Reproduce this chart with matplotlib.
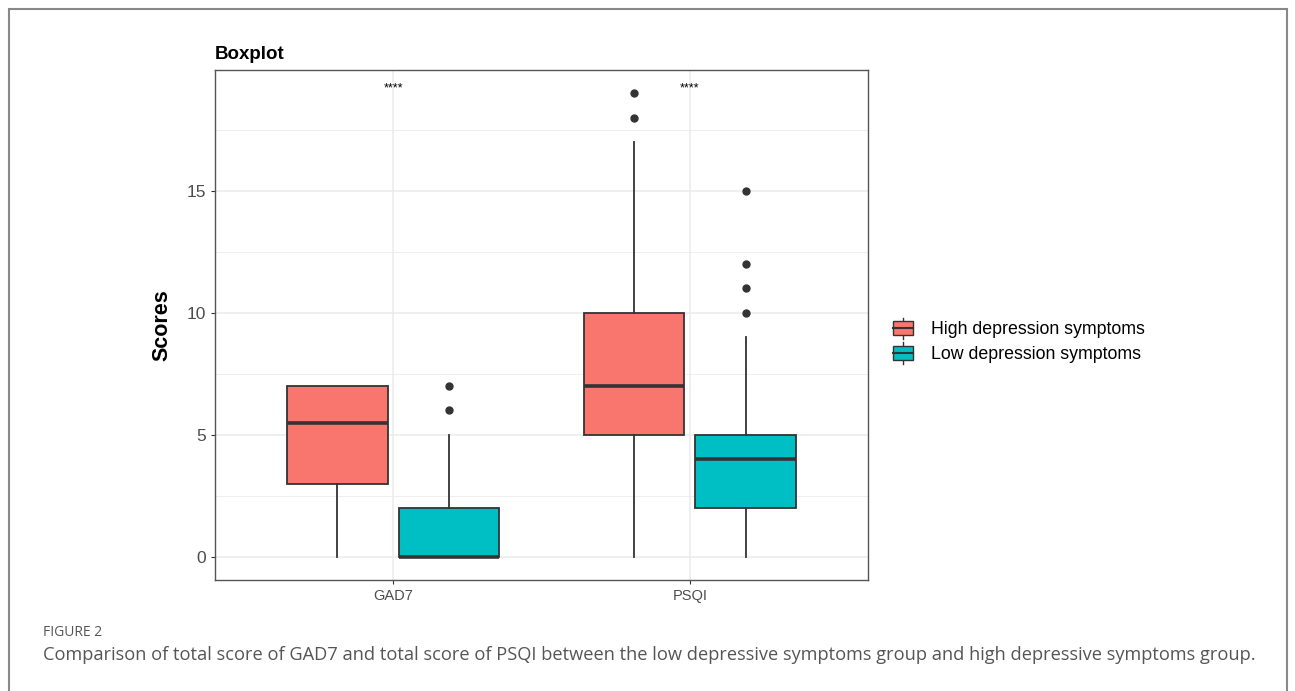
import matplotlib.pyplot as plt
from matplotlib.patches import Rectangle
from matplotlib.lines import Line2D
from matplotlib.legend_handler import HandlerBase

plt.rcParams['font.family'] = ['Liberation Sans', 'DejaVu Sans']

# --- 資料 ---
categories = ["GAD7", "PSQI"]
groups = ["High depression symptoms", "Low depression symptoms"]
colors = ["#F8766D", "#00BFC4"]

# 每組: [whislo, q1, med, q3, whishi]
high_stats = [[0, 3, 5.5, 7, 7], [0, 5, 7, 10, 17]]
low_stats = [[0, 0, 0, 2, 5], [0, 2, 4, 5, 9]]
high_fliers = [[], [18, 19]]
low_fliers = [[6, 7], [10, 11, 12, 15]]
signif = ["****", "****"]
signif_y = 19.2

edge = "#333333"


class BoxKeyHandler(HandlerBase):
    # 圖例中的小盒子 (像 ggplot 的 boxplot key)
    def create_artists(self, legend, orig_handle, xdescent, ydescent,
                       width, height, fontsize, trans):
        fc = orig_handle.get_facecolor()
        cx = width / 2 - xdescent
        bw = width * 0.85
        bh = height * 0.95
        y0 = -ydescent + (height - bh) / 2
        vline = Line2D([cx, cx], [-ydescent - 2.5, -ydescent + height + 2.5],
                       color=edge, lw=1, transform=trans)
        rect = Rectangle((cx - bw / 2, y0), bw, bh, facecolor=fc,
                         edgecolor=edge, lw=1, transform=trans)
        mid = Line2D([cx - bw / 2, cx + bw / 2], [y0 + bh / 2, y0 + bh / 2],
                     color=edge, lw=1.5, transform=trans)
        return [vline, rect, mid]


fig = plt.figure(figsize=(12.95, 6.91), dpi=100)
ax = fig.add_axes([0.166, 0.1606, 0.5043, 0.7381])

offset = 0.1875
width = 0.3375
for g, (stats, fliers, col, sgn) in enumerate(
        [(high_stats, high_fliers, colors[0], -1),
         (low_stats, low_fliers, colors[1], 1)]):
    bxp_stats = []
    for s, f in zip(stats, fliers):
        bxp_stats.append(dict(whislo=s[0], q1=s[1], med=s[2], q3=s[3],
                              whishi=s[4], fliers=f))
    pos = [i + 1 + sgn * offset for i in range(len(categories))]
    ax.bxp(bxp_stats, positions=pos, widths=width, patch_artist=True,
           showcaps=False,
           boxprops=dict(facecolor=col, edgecolor=edge, lw=1.3),
           medianprops=dict(color=edge, lw=2.6),
           whiskerprops=dict(color=edge, lw=1.3),
           flierprops=dict(marker="o", markerfacecolor=edge,
                           markeredgecolor=edge, markersize=5),
           zorder=3)

for i, s in enumerate(signif):
    ax.text(i + 1, signif_y, s, ha="center", va="center", fontsize=9,
            color="black", zorder=4)

ax.set_xlim(0.4, 2.6)
ax.set_ylim(-0.95, 19.95)
ax.set_xticks([1, 2])
ax.set_xticklabels(categories, fontsize=10.5, color="#4d4d4d")
ax.set_yticks([0, 5, 10, 15])
ax.set_yticks([2.5, 7.5, 12.5, 17.5], minor=True)
ax.tick_params(axis="y", labelsize=12.5, labelcolor="#4d4d4d", color="#333333",
               length=3)
ax.tick_params(axis="x", color="#333333", length=3)
ax.tick_params(which="minor", length=0)
ax.grid(True, which="major", color="#ebebeb", lw=1.1, zorder=0)
ax.grid(True, which="minor", axis="y", color="#ebebeb", lw=0.6, zorder=0)
ax.set_axisbelow(True)
for sp in ax.spines.values():
    sp.set_color("#555555")
    sp.set_linewidth(1.0)

ax.set_ylabel("Scores", fontsize=15.5, fontweight="bold", labelpad=10)
ax.set_title("Boxplot", loc="left", fontsize=13.5, fontweight="bold", pad=8)

handles = [Rectangle((0, 0), 1, 1, facecolor=c) for c in colors]
fig.legend(handles, groups, loc="center left", bbox_to_anchor=(0.676, 0.505),
           frameon=False, fontsize=12.8, handler_map={Rectangle: BoxKeyHandler()},
           handlelength=1.3, handleheight=0.9, handletextpad=0.9,
           labelspacing=0.4)

# 外框與圖說
fig.patches.append(Rectangle((9 / 1295, -0.05), 1278 / 1295, 1.05 - 9 / 691,
                             transform=fig.transFigure, fill=False,
                             edgecolor="#888888", lw=1.5))
fig.text(43 / 1295, 1 - 633 / 691, "FIGURE 2", fontsize=10, color="#555555",
         va="center", family="Open Sans")
fig.text(43 / 1295, 1 - 655 / 691,
         "Comparison of total score of GAD7 and total score of PSQI between the low "
         "depressive symptoms group and high depressive symptoms group.",
         fontsize=13.16, color="#555555", va="center", family="Open Sans")

fig.savefig("out.png", dpi=100)
